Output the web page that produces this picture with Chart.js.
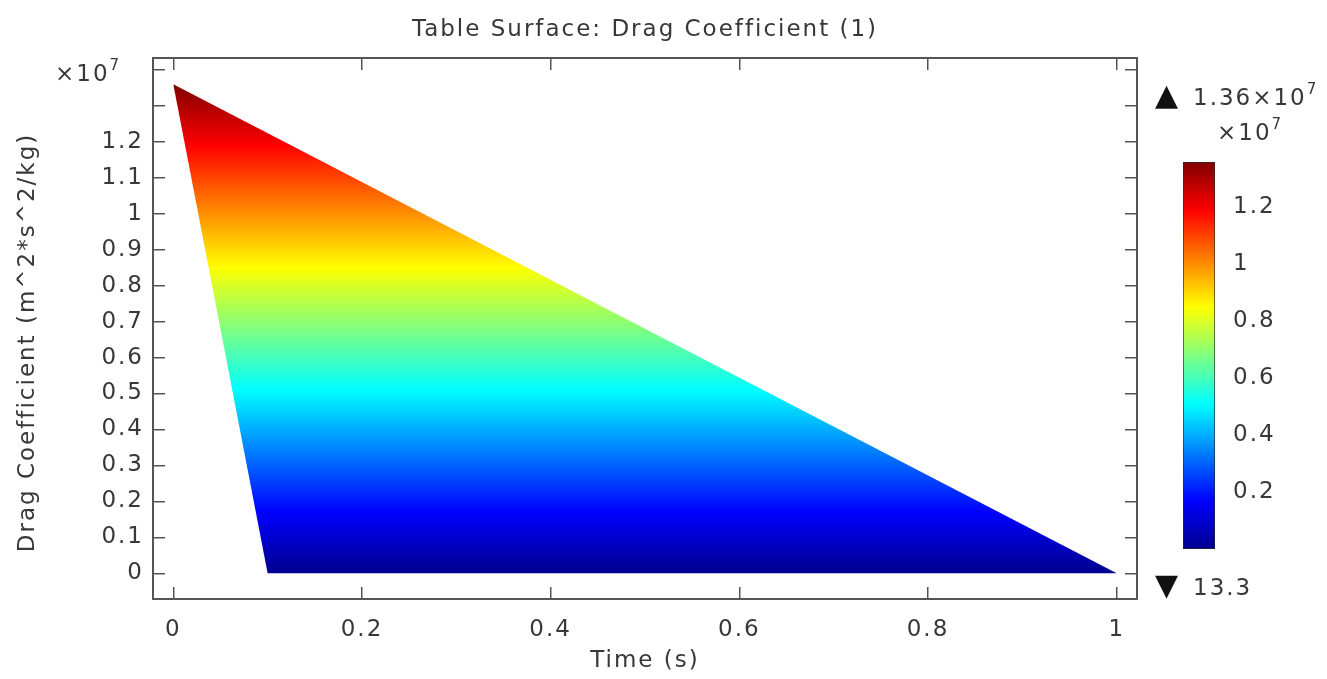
<!DOCTYPE html>
<html>
<head>
<meta charset="utf-8">
<script src="https://cdn.jsdelivr.net/npm/chart.js@4.4.0/dist/chart.umd.min.js"></script>
<style>
html,body{margin:0;padding:0;background:#fff;}
#wrap{position:relative;width:1327px;height:679px;overflow:hidden;font-family:"DejaVu Sans",sans-serif;color:#383838;}
#main{position:absolute;left:0;top:0;}
#cbar{position:absolute;left:1183px;top:150px;}
.lbl{position:absolute;font-size:23px;line-height:23px;letter-spacing:2px;white-space:nowrap;}
.sup{position:relative;font-size:15px;top:-11px;letter-spacing:0;}
.tri{position:absolute;font-size:30px;line-height:30px;color:#111;}
</style>
</head>
<body>
<div id="wrap">
  <canvas id="main" width="1327" height="679"></canvas>
  <canvas id="cbar" width="100" height="412"></canvas>
  <div class="lbl" style="left:55px;top:62px;">×10<span class="sup">7</span></div>
  <div class="tri" style="left:1155px;top:80px;">▲</div>
  <div class="lbl" style="left:1193px;top:86px;">1.36×10<span class="sup">7</span></div>
  <div class="lbl" style="left:1217px;top:121px;">×10<span class="sup">7</span></div>
  <div class="tri" style="left:1155px;top:570px;">▼</div>
  <div class="lbl" style="left:1193px;top:576px;">13.3</div>
</div>
<script>
// ---- data ----
const Y_MULT = 1e7;
const time = [0, 0.1, 1];
const dragCoefficient = [1.36e7, 13.3, 13.3];
const xTickValues = [0, 0.2, 0.4, 0.6, 0.8, 1];
const xTickLabels = ['0', '0.2', '0.4', '0.6', '0.8', '1'];
const yTickValues = [0, 0.1, 0.2, 0.3, 0.4, 0.5, 0.6, 0.7, 0.8, 0.9, 1, 1.1, 1.2, 1.3, 1.4];
const yTickLabels = ['0', '0.1', '0.2', '0.3', '0.4', '0.5', '0.6', '0.7', '0.8', '0.9', '1', '1.1', '1.2', '', ''];
const colorbarTickValues = [0.2, 0.4, 0.6, 0.8, 1, 1.2];
const colorbarTickLabels = ['0.2', '0.4', '0.6', '0.8', '1', '1.2'];
const colorRange = [13.3, 1.36e7];

// ---- styles ----
const JET = [[0, 'rgb(0,0,143)'], [0.125, 'rgb(0,0,255)'], [0.375, 'rgb(0,255,255)'],
             [0.625, 'rgb(255,255,0)'], [0.875, 'rgb(255,0,0)'], [1, 'rgb(128,0,0)']];
const TXT = '#383838';
const FRAME = '#555555';
Chart.defaults.font.family = '"DejaVu Sans", sans-serif';
Chart.defaults.font.size = 23;
Chart.defaults.color = TXT;

function jetGradient(chart, scaleId) {
  const s = chart.scales[scaleId];
  if (!s || !chart.chartArea) return 'rgb(0,128,255)';
  const y0 = s.getPixelForValue(colorRange[0]);
  const y1 = s.getPixelForValue(colorRange[1]);
  const g = chart.ctx.createLinearGradient(0, y0, 0, y1);
  JET.forEach(([t, c]) => g.addColorStop(t, c));
  return g;
}
const spacingPlugin = { id: 'spacing', beforeDraw(c) { c.ctx.letterSpacing = '2px'; } };

const upperEdge = [{x: time[0], y: dragCoefficient[0]}, {x: time[2], y: dragCoefficient[2]}];
const lowerEdge = time.map((t, i) => ({x: t, y: dragCoefficient[i]}));

const gridOpts = (len) => ({drawOnChartArea: false, drawTicks: true, tickLength: len, color: FRAME, lineWidth: 1.5});
const borderOpts = {display: true, color: FRAME, width: 2};

new Chart(document.getElementById('main'), {
  type: 'scatter',
  data: {
    datasets: [
      {data: upperEdge, showLine: true, pointRadius: 0, borderWidth: 0, borderColor: 'transparent',
       fill: '+1', backgroundColor: (ctx) => jetGradient(ctx.chart, 'y')},
      {data: lowerEdge, showLine: true, pointRadius: 0, borderWidth: 0, borderColor: 'transparent',
       fill: false, backgroundColor: 'transparent'}
    ]
  },
  options: {
    responsive: false, animation: false,
    layout: {padding: 0},
    plugins: {
      legend: {display: false}, tooltip: {enabled: false},
      title: {display: true, text: 'Table Surface: Drag Coefficient (1)', fullSize: false,
              color: TXT, font: {size: 23, weight: 'normal', lineHeight: 1.2},
              padding: {top: 16, bottom: 14.4}}
    },
    scales: {
      x: {type: 'linear', position: 'bottom', min: -0.0215, max: 1.0215,
          afterBuildTicks: (s) => { s.ticks = xTickValues.map(v => ({value: v})); },
          ticks: {autoSkip: false, maxRotation: 0, padding: 29, callback: (v, i) => xTickLabels[i]},
          grid: gridOpts(-12), border: borderOpts,
          title: {display: true, text: 'Time (s)', color: TXT, font: {size: 23}, padding: {top: 0, bottom: 4}},
          afterFit: (s) => { s.height = 80; }},
      x2: {type: 'linear', position: 'top', min: -0.0215, max: 1.0215,
          afterBuildTicks: (s) => { s.ticks = xTickValues.map(v => ({value: v})); },
          ticks: {display: false}, grid: gridOpts(-12), border: borderOpts,
          afterFit: (s) => { s.height = 0; }},
      y: {type: 'linear', position: 'left', min: -0.0714 * Y_MULT, max: 1.433 * Y_MULT,
          afterBuildTicks: (s) => { s.ticks = yTickValues.map(v => ({value: v * Y_MULT})); },
          ticks: {autoSkip: false, padding: 21, callback: (v, i) => yTickLabels[i]},
          grid: gridOpts(-12), border: borderOpts,
          title: {display: true, text: 'Drag Coefficient (m^2*s^2/kg)   ', color: TXT, font: {size: 23},
                  padding: {top: 14, bottom: 0}},
          afterFit: (s) => { s.width = 153; }},
      y2: {type: 'linear', position: 'right', min: -0.0714 * Y_MULT, max: 1.433 * Y_MULT,
          afterBuildTicks: (s) => { s.ticks = yTickValues.map(v => ({value: v * Y_MULT})); },
          ticks: {display: false}, grid: gridOpts(-12), border: borderOpts,
          afterFit: (s) => { s.width = 190; }}
    }
  },
  plugins: [spacingPlugin]
});

// ---- colour bar ----
const cbGrid = {drawOnChartArea: false, drawTicks: true, tickLength: -4, color: '#333', lineWidth: 1};
new Chart(document.getElementById('cbar'), {
  type: 'bar',
  data: {
    labels: [''],
    datasets: [{data: [[colorRange[0], colorRange[1]]], backgroundColor: (ctx) => jetGradient(ctx.chart, 'y'),
                borderColor: '#2a2a2a', borderWidth: 1, borderSkipped: false,
                barPercentage: 1, categoryPercentage: 1}]
  },
  options: {
    responsive: false, animation: false,
    layout: {padding: {top: 12, bottom: 13, left: 0, right: 0}},
    plugins: {legend: {display: false}, tooltip: {enabled: false}},
    scales: {
      x: {display: false},
      y: {type: 'linear', position: 'right', min: colorRange[0], max: colorRange[1],
          afterBuildTicks: (s) => { s.ticks = colorbarTickValues.map(v => ({value: v * Y_MULT})); },
          ticks: {autoSkip: false, padding: 22, callback: (v, i) => colorbarTickLabels[i]},
          grid: cbGrid, border: {display: false},
          afterFit: (s) => { s.width = 68; s.paddingTop = 0; s.paddingBottom = 0; }},
      yl: {type: 'linear', position: 'left', min: colorRange[0], max: colorRange[1],
          afterBuildTicks: (s) => { s.ticks = colorbarTickValues.map(v => ({value: v * Y_MULT})); },
          ticks: {display: false}, grid: cbGrid, border: {display: false},
          afterFit: (s) => { s.width = 0; s.paddingTop = 0; s.paddingBottom = 0; }}
    }
  },
  plugins: [spacingPlugin]
});
</script>
</body>
</html>
